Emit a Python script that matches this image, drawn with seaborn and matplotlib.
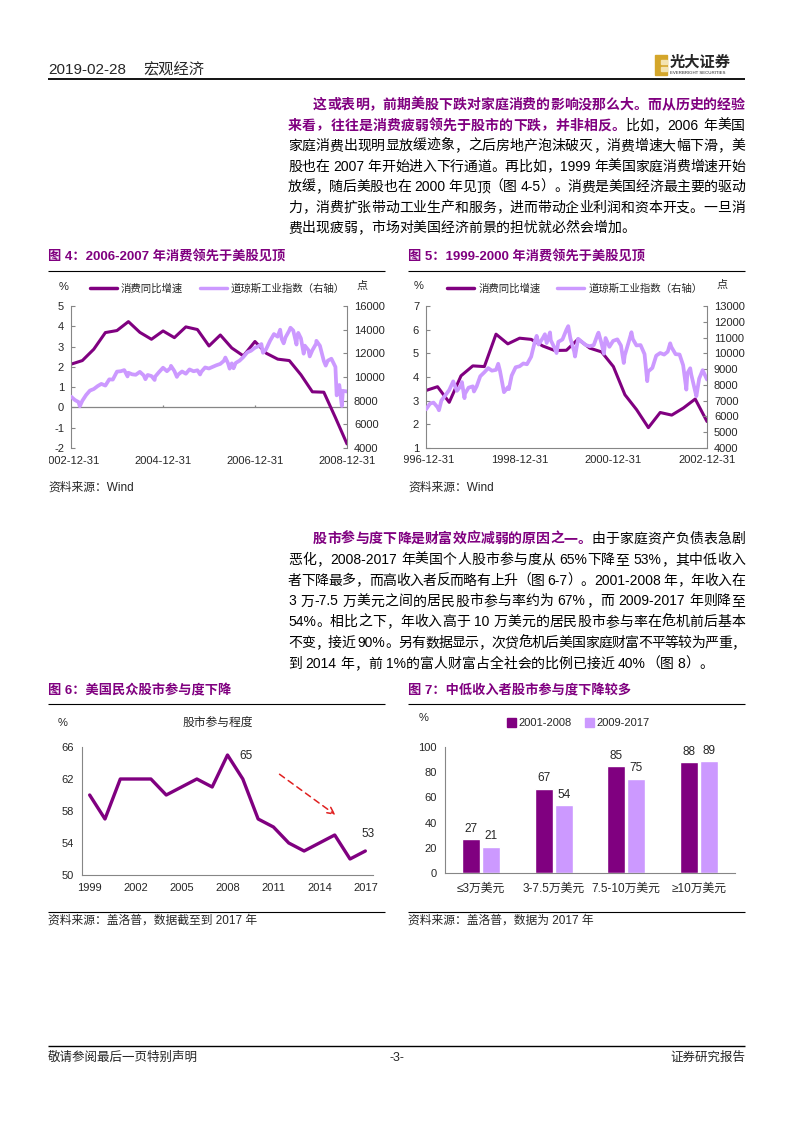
import re
import numpy as np
import pandas as pd
import matplotlib
matplotlib.use('Agg')
import matplotlib.pyplot as plt
import seaborn as sns
from matplotlib.lines import Line2D
from matplotlib.patches import Patch, Rectangle
from matplotlib.transforms import Bbox, TransformedBbox

W, H = 793, 1122
DARK = '#800080'
LIGHT = '#CC99FF'
GREY = '#868686'
BODY_FS = 10

# 图4: 消费同比增速(季度), 2002Q4-2008Q4
cons_a = [2.13, 2.31, 2.87, 3.69, 3.79, 4.23, 3.70, 3.36, 3.77, 3.44, 3.97, 3.84, 3.03,
          3.57, 2.93, 2.54, 3.25, 2.67, 2.38, 2.31, 1.61, 0.77, 0.75, -0.50, -1.80]
# 图4: 道琼斯工业指数
dow_a_dates = ['2002-12-31', '2003-01-31', '2003-02-28', '2003-03-11', '2003-03-31', '2003-04-30',
               '2003-05-30', '2003-06-30', '2003-07-31', '2003-08-29', '2003-09-30', '2003-10-31',
               '2003-11-28', '2003-12-31', '2004-01-30', '2004-02-27', '2004-03-24', '2004-03-31',
               '2004-04-30', '2004-05-28', '2004-06-30', '2004-07-30', '2004-08-13', '2004-08-31',
               '2004-09-30', '2004-10-25', '2004-10-29', '2004-11-30', '2004-12-31', '2005-01-31',
               '2005-02-28', '2005-03-04', '2005-03-31', '2005-04-20', '2005-04-29', '2005-05-31',
               '2005-06-30', '2005-07-29', '2005-08-31', '2005-09-30', '2005-10-21', '2005-10-31',
               '2005-11-30', '2005-12-30', '2006-01-31', '2006-02-28', '2006-03-31', '2006-04-28',
               '2006-05-10', '2006-05-31', '2006-06-13', '2006-06-30', '2006-07-14', '2006-07-31',
               '2006-08-31', '2006-09-29', '2006-10-31', '2006-11-30', '2006-12-29', '2007-01-31',
               '2007-02-20', '2007-02-28', '2007-03-05', '2007-03-30', '2007-04-30', '2007-05-31',
               '2007-06-29', '2007-07-19', '2007-07-31', '2007-08-16', '2007-08-31', '2007-09-28',
               '2007-10-09', '2007-10-31', '2007-11-26', '2007-11-30', '2007-12-10', '2007-12-31',
               '2008-01-22', '2008-01-31', '2008-02-29', '2008-03-10', '2008-03-31', '2008-04-30',
               '2008-05-02', '2008-05-30', '2008-06-30', '2008-07-15', '2008-07-31', '2008-08-29',
               '2008-09-30', '2008-10-10', '2008-10-31', '2008-11-20', '2008-11-28', '2008-12-31']
dow_a_vals = [8342, 8054, 7891, 7524, 7992, 8480,
              8850, 8985, 9234, 9416, 9275, 9801,
              9782, 10454, 10488, 10584, 10048, 10358,
              10226, 10188, 10435, 10140, 9815, 10174,
              10080, 9750, 10027, 10428, 10783, 10490,
              10766, 10941, 10504, 10012, 10193, 10467,
              10275, 10641, 10482, 10569, 10215, 10440,
              10806, 10718, 10865, 10993, 11109, 11367,
              11642, 11168, 10706, 11150, 10739, 11186,
              11381, 11679, 12081, 12222, 12463, 12622,
              12786, 12269, 12050, 12354, 13063, 13628,
              13409, 14000, 13212, 12845, 13358, 13896,
              14164, 13930, 12743, 13372, 13727, 13265,
              11971, 12650, 12266, 11740, 12263, 12820,
              13058, 12638, 11350, 10963, 11378, 11544,
              10851, 8451, 9325, 7552, 8829, 8776]

# 图5: 消费同比增速(季度), 1996Q4-2002Q4
cons_b = [3.43, 3.59, 2.93, 4.05, 4.47, 4.44, 5.81, 5.40, 5.64, 5.59, 5.31, 5.12, 5.13,
          5.60, 5.22, 5.06, 4.44, 3.25, 2.62, 1.86, 2.50, 2.39, 2.69, 3.07, 2.12]
dow_b_dates = ['1996-12-31', '1997-01-31', '1997-02-28', '1997-03-31', '1997-04-11', '1997-04-30',
               '1997-05-30', '1997-06-30', '1997-07-31', '1997-08-29', '1997-09-30', '1997-10-07',
               '1997-10-27', '1997-10-31', '1997-11-28', '1997-12-31', '1998-01-09', '1998-01-30',
               '1998-02-27', '1998-03-31', '1998-04-30', '1998-05-29', '1998-06-30', '1998-07-17',
               '1998-07-31', '1998-08-31', '1998-09-30', '1998-10-08', '1998-10-30', '1998-11-30',
               '1998-12-31', '1999-01-29', '1999-02-26', '1999-03-31', '1999-04-30', '1999-05-13',
               '1999-05-28', '1999-06-30', '1999-07-16', '1999-07-30', '1999-08-25', '1999-08-31',
               '1999-09-30', '1999-10-15', '1999-10-29', '1999-11-30', '1999-12-31', '2000-01-14',
               '2000-01-31', '2000-02-29', '2000-03-07', '2000-03-31', '2000-04-28', '2000-05-31',
               '2000-06-30', '2000-07-31', '2000-08-31', '2000-09-06', '2000-09-29', '2000-10-18',
               '2000-10-31', '2000-11-30', '2000-12-29', '2001-01-31', '2001-02-28', '2001-03-22',
               '2001-03-30', '2001-04-30', '2001-05-21', '2001-05-31', '2001-06-29', '2001-07-31',
               '2001-08-31', '2001-09-21', '2001-09-28', '2001-10-31', '2001-11-30', '2001-12-31',
               '2002-01-31', '2002-02-28', '2002-03-19', '2002-03-28', '2002-04-30', '2002-05-31',
               '2002-06-28', '2002-07-23', '2002-07-31', '2002-08-22', '2002-08-30', '2002-09-30',
               '2002-10-09', '2002-10-31', '2002-11-27', '2002-12-31']
dow_b_vals = [6448, 6813, 6878, 6584, 6391, 7009,
              7331, 7673, 8223, 7622, 7945, 8178,
              7161, 7442, 7823, 7908, 7581, 7907,
              8546, 8800, 9063, 8900, 8952, 9338,
              8883, 7539, 7843, 7731, 8592, 9117,
              9181, 9359, 9307, 9786, 10789, 11107,
              10560, 10971, 11209, 10655, 11326, 10829,
              10337, 10019, 10729, 10878, 11497, 11723,
              10941, 10128, 9796, 10922, 10734, 10522,
              10448, 10522, 11215, 11310, 10651, 9976,
              10971, 10415, 10788, 10887, 10495, 9389,
              9879, 10735, 11337, 10912, 10502, 10523,
              9950, 8236, 8848, 9075, 9852, 10021,
              9920, 10106, 10635, 10404, 9946, 9925,
              9243, 7702, 8737, 9053, 8664, 7592,
              7286, 8397, 8931, 8342]

# 图6: 股市参与程度
years6 = list(range(1999, 2018))
part6 = [60, 57, 62, 62, 62, 60, 61, 62, 61, 65, 62, 57, 56, 54, 53, 54, 55, 52, 53]

# 图7: 分收入股市参与度
cats7 = ['≤3万美元', '3-7.5万美元', '7.5-10万美元', '≥10万美元']
periods7 = ['2001-2008', '2009-2017']
before7 = [27, 67, 85, 88]
after7 = [21, 54, 75, 89]

para1 = [
    [('这或表明，前期美股下跌对家庭消费的影响没那么大。而从历史的经验', True)],
    [('来看，往往是消费疲弱领先于股市的下跌，并非相反。', True), ('比如，2006 年美国', False)],
    [('家庭消费出现明显放缓迹象，之后房地产泡沫破灭，消费增速大幅下滑，美', False)],
    [('股也在 2007 年开始进入下行通道。再比如，1999 年美国家庭消费增速开始', False)],
    [('放缓，随后美股也在 2000 年见顶（图 4-5）。消费是美国经济最主要的驱动', False)],
    [('力，消费扩张带动工业生产和服务，进而带动企业利润和资本开支。一旦消', False)],
    [('费出现疲弱，市场对美国经济前景的担忧就必然会增加。', False)],
]
para2 = [
    [('股市参与度下降是财富效应减弱的原因之一。', True), ('由于家庭资产负债表急剧', False)],
    [('恶化，2008-2017 年美国个人股市参与度从 65%下降至 53%，其中低收入', False)],
    [('者下降最多，而高收入者反而略有上升（图 6-7）。2001-2008 年，年收入在', False)],
    [('3 万-7.5 万美元之间的居民股市参与率约为 67%，而 2009-2017 年则降至', False)],
    [('54%。相比之下，年收入高于 10 万美元的居民股市参与率在危机前后基本', False)],
    [('不变，接近 90%。另有数据显示，次贷危机后美国家庭财富不平等较为严重，', False)],
    [('到 2014 年，前 1%的富人财富占全社会的比例已接近 40%（图 8）。', False)],
]

sns.set_style('white')
plt.rcParams['font.family'] = ['Liberation Sans', 'Noto Sans CJK SC', 'DejaVu Sans']
plt.rcParams['axes.unicode_minus'] = False

fig = plt.figure(figsize=(W / 100, H / 100), dpi=100)
page = fig.add_axes([0, 0, 1, 1])
page.set_xlim(0, W)
page.set_ylim(H, 0)
page.axis('off')
renderer = fig.canvas.get_renderer()


def px_axes(x0, y0, x1, y1):
    return fig.add_axes([x0 / W, 1 - y1 / H, (x1 - x0) / W, (y1 - y0) / H])


def rule(x0, x1, y, lw=0.8, color='black'):
    page.plot([x0, x1], [y, y], color=color, lw=lw, solid_capstyle='butt')


TOKEN = re.compile(r'[A-Za-z0-9.%\-]+| |.')


def measure(s, bold):
    t = page.text(0, 0, s, fontsize=BODY_FS, fontweight='bold' if bold else 'normal')
    w = t.get_window_extent(renderer).width
    t.remove()
    return w


def body_line(x, y, parts, justify, right=745):
    # 两端对齐: 把多余宽度平均分到各字之间
    toks = [(tk, bold) for s, bold in parts for tk in TOKEN.findall(s)]
    widths = [0.278 * BODY_FS * 100 / 72 if tk == ' ' else measure(tk, b) for tk, b in toks]
    extra = 0.0
    if justify and len(toks) > 1:
        extra = (right - x - sum(widths)) / (len(toks) - 1)
    cx = x
    for (tk, b), w in zip(toks, widths):
        if tk != ' ':
            page.text(cx, y, tk, fontsize=BODY_FS, color=DARK if b else 'black',
                      fontweight='bold' if b else 'normal', va='center', ha='left')
        cx += w + extra


# 页眉
page.text(48, 70, '2019-02-28', fontsize=11, va='center')
page.text(143, 70, '宏观经济', fontsize=11, va='center')
rule(48, 745, 79, lw=1.3)
page.add_patch(Rectangle((655, 55), 12, 20, color='#D4A62A'))
page.add_patch(Rectangle((661, 60), 6, 3.5, color='#F3E3B0'))
page.add_patch(Rectangle((661, 67), 6, 3.5, color='#F3E3B0'))
page.text(670, 63, '光大证券', fontsize=11, fontweight='bold', va='center')
page.text(670, 73, 'EVERBRIGHT SECURITIES', fontsize=3.2, va='center')

# 正文
for para, y0, step in [(para1, 105, 20.5), (para2, 539, 20.8)]:
    for i, parts in enumerate(para):
        body_line(313 if i == 0 else 288, y0 + step * i, parts, justify=i < len(para) - 1)

# 图标题
title_kw = dict(fontsize=9.5, fontweight='bold', color=DARK, va='center')
page.text(48, 257, '图 4：2006-2007 年消费领先于美股见顶', **title_kw)
page.text(408, 257, '图 5：1999-2000 年消费领先于美股见顶', **title_kw)
page.text(48, 691, '图 6：美国民众股市参与度下降', **title_kw)
page.text(408, 691, '图 7：中低收入者股市参与度下降较多', **title_kw)
for xa, xb in [(48, 385), (408, 745)]:
    rule(xa, xb, 270.5, lw=0.8)
    rule(xa, xb, 704, lw=0.8)
    rule(xa, xb, 912, lw=0.8)

src_kw = dict(fontsize=8.5, va='center')
page.text(48, 488, '资料来源：Wind', **src_kw)
page.text(408, 488, '资料来源：Wind', **src_kw)
page.text(48, 921, '资料来源：盖洛普，数据截至到 2017 年', **src_kw)
page.text(408, 921, '资料来源：盖洛普，数据为 2017 年', **src_kw)

# 页脚
rule(48, 745, 1046, lw=1.0)
page.text(48, 1058, '敬请参阅最后一页特别声明', fontsize=9, va='center')
page.text(397, 1058, '-3-', fontsize=9, va='center', ha='center')
page.text(745, 1058, '证券研究报告', fontsize=9, va='center', ha='right')


def dual_chart(box, q_start, q_end, cons, dow_dates, dow_vals, ylim, y2lim, y2step,
               xticks, clip_px, zero_line):
    ax = px_axes(*box)
    qdates = pd.period_range(q_start, q_end, freq='Q').to_timestamp(how='end').normalize()
    sns.lineplot(x=qdates, y=cons, ax=ax, color=DARK, lw=2.2)
    ax2 = ax.twinx()
    sns.lineplot(x=pd.to_datetime(dow_dates), y=dow_vals, ax=ax2, color=LIGHT, lw=2.7)

    ax.set_xlim(qdates[0], qdates[-1])
    ax.set_ylim(*ylim)
    ax.set_yticks(range(ylim[0], ylim[1] + 1))
    ax2.set_ylim(*y2lim)
    ax2.set_yticks(range(y2lim[0], y2lim[1] + 1, y2step))
    tick_dates = pd.to_datetime(xticks)
    ax.set_xticks(tick_dates)
    ax.set_xticklabels(xticks)
    for a in (ax, ax2):
        a.set_xlabel('')
        a.set_ylabel('')
        a.spines['top'].set_visible(False)
    ax.spines['right'].set_visible(False)
    ax2.spines['left'].set_visible(False)
    ax2.spines['bottom'].set_visible(False)
    ax.spines['left'].set_color(GREY)
    ax2.spines['right'].set_color(GREY)
    ax.tick_params(axis='y', direction='in', length=3, color=GREY, labelsize=8, pad=5)
    ax2.tick_params(axis='y', direction='in', length=3, color=GREY, labelsize=8, pad=5)
    if zero_line:
        ax.spines['bottom'].set_visible(False)
        ax.axhline(0, color=GREY, lw=0.9, zorder=1)
        ax.vlines(tick_dates[1:-1], 0, 0.12, color=GREY, lw=0.9)
        ax.tick_params(axis='x', length=0, labelsize=8, pad=6)
    else:
        ax.spines['bottom'].set_color(GREY)
        ax.tick_params(axis='x', direction='in', length=3, color=GREY, labelsize=8, pad=5)
    clip = TransformedBbox(Bbox.from_extents(clip_px / W, 0, 1, 1), fig.transFigure)
    first = ax.xaxis.get_major_ticks()[0].label1
    first.set_clip_box(clip)
    first.set_clip_on(True)

    handles = [Line2D([], [], color=DARK, lw=2.5), Line2D([], [], color=LIGHT, lw=2.5)]
    ax.legend(handles, ['消费同比增速', '道琼斯工业指数（右轴）'], loc='center',
              bbox_to_anchor=(0.53, 1.12), ncol=2, frameon=False, fontsize=7.5,
              handlelength=2.6, columnspacing=1.6, handletextpad=0.4)
    return ax, ax2


dual_chart((71, 306, 347, 448), '2002Q4', '2008Q4', cons_a, dow_a_dates, dow_a_vals,
           (-2, 5), (4000, 16000), 2000,
           ['2002-12-31', '2004-12-31', '2006-12-31', '2008-12-31'], 49, True)
page.text(64, 287, '%', fontsize=8, ha='center', va='center')
page.text(362, 286, '点', fontsize=8, ha='center', va='center')

dual_chart((426, 306, 707, 448), '1996Q4', '2002Q4', cons_b, dow_b_dates, dow_b_vals,
           (1, 7), (4000, 13000), 1000,
           ['1996-12-31', '1998-12-31', '2000-12-31', '2002-12-31'], 404, False)
page.text(419, 286, '%', fontsize=8, ha='center', va='center')
page.text(722, 285, '点', fontsize=8, ha='center', va='center')

# 图6
ax6 = px_axes(82, 747, 373, 875)
sns.lineplot(x=years6, y=part6, ax=ax6, color=DARK, lw=2.4)
ax6.set_xlim(years6[0] - 0.5, years6[-1] + 0.5)
ax6.set_ylim(50, 66)
ax6.set_yticks(range(50, 67, 4))
ax6.set_xticks(years6[::3])
ax6.set_xticks(np.arange(years6[0] - 0.5, years6[-1] + 1), minor=True)
ax6.set_xlabel('')
ax6.set_ylabel('')
for s in ('top', 'right'):
    ax6.spines[s].set_visible(False)
for s in ('left', 'bottom'):
    ax6.spines[s].set_color(GREY)
ax6.tick_params(axis='y', direction='in', length=3, color=GREY, labelsize=8, pad=6)
ax6.tick_params(axis='x', which='major', length=0, labelsize=8, pad=6)
ax6.tick_params(axis='x', which='minor', direction='in', length=3, color=GREY)
peak = int(np.argmax(part6))
ax6.annotate(str(part6[peak]), xy=(years6[peak], part6[peak]), xytext=(13, -1),
             textcoords='offset points', fontsize=8.5, ha='center', va='center')
ax6.annotate(str(part6[-1]), xy=(years6[-1], part6[-1]), xytext=(2, 12),
             textcoords='offset points', fontsize=8.5, ha='center', va='center')
ax6.annotate('', xy=(2015.2, 57.3), xytext=(2011.25, 62.8),
             arrowprops=dict(arrowstyle='->', color='#E02020', linestyle=(0, (4, 3)),
                             lw=1.1, mutation_scale=12))
page.text(218, 723, '股市参与程度', fontsize=8.5, ha='center', va='center')
page.text(63, 723, '%', fontsize=8, ha='center', va='center')

# 图7
df7 = pd.DataFrame({
    '收入': cats7 * 2,
    '时期': [periods7[0]] * len(cats7) + [periods7[1]] * len(cats7),
    '比例': before7 + after7,
})
ax7 = px_axes(445, 747, 735, 873)
sns.barplot(data=df7, x='收入', y='比例', hue='时期', palette=[DARK, LIGHT],
            width=0.56, gap=0.12, saturation=1, legend=False, ax=ax7)
for c in ax7.containers:
    ax7.bar_label(c, fmt='%d', fontsize=8.5, padding=3)
ax7.set_xlim(-0.5, len(cats7) - 0.5)
ax7.set_ylim(0, 100)
ax7.set_yticks(range(0, 101, 20))
ax7.set_xlabel('')
ax7.set_ylabel('')
for s in ('top', 'right'):
    ax7.spines[s].set_visible(False)
for s in ('left', 'bottom'):
    ax7.spines[s].set_color(GREY)
ax7.tick_params(axis='y', direction='in', length=3, color=GREY, labelsize=8, pad=6)
ax7.tick_params(axis='x', length=0, labelsize=8.5, pad=7)
ax7.legend([Patch(color=DARK), Patch(color=LIGHT)], periods7, loc='center',
           bbox_to_anchor=(0.46, 1.19), ncol=2, frameon=False, fontsize=8,
           handlelength=0.8, handleheight=0.8, columnspacing=1.2, handletextpad=0.2)
page.text(424, 718, '%', fontsize=8, ha='center', va='center')

fig.savefig('out.png', dpi=100)
